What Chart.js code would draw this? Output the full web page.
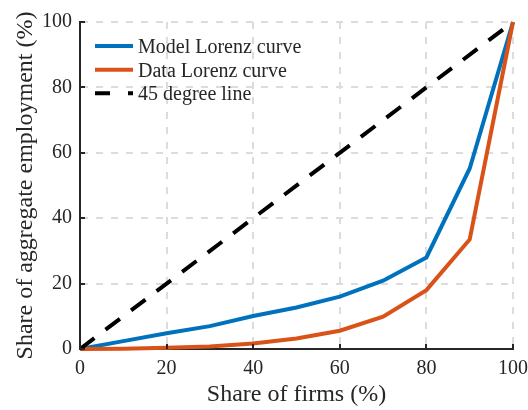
<!DOCTYPE html>
<html>
<head>
<meta charset="utf-8">
<script src="https://cdn.jsdelivr.net/npm/chart.js@4/dist/chart.umd.min.js"></script>
<style>
  html, body { margin: 0; padding: 0; background: #ffffff; }
  #wrap { width: 528px; height: 410px; }
</style>
</head>
<body>
<div id="wrap"><canvas id="c" width="528" height="410"></canvas></div>
<script>
// ---- data ----
const shareOfFirms = [0, 10, 20, 30, 40, 50, 60, 70, 80, 90, 100];
const modelLorenz  = [0, 2.4, 4.8, 7.0, 10.1, 12.7, 16.0, 20.9, 28.0, 55.2, 100];
const dataLorenz   = [0, 0.1, 0.4, 0.8, 1.7, 3.2, 5.6, 9.9, 18.0, 33.5, 100];
const diagX = [0, 100];
const diagY = [0, 100];
const tickValues = [0, 20, 40, 60, 80, 100];
const seriesNames = ['Model Lorenz curve', 'Data Lorenz curve', '45 degree line'];
const xTitle = 'Share of firms (%)';
const yTitle = 'Share of aggregate employment (%)';

const FONT = "'Liberation Serif', 'DejaVu Serif', serif";
const TXT = '#262626';
const BLUE = '#0072BD';
const ORANGE = '#D95319';
const LW = 4;

const toPts = (xs, ys) => xs.map((x, i) => ({ x: x, y: ys[i] }));

// custom in-plot legend (upper left)
const insideLegend = {
  id: 'insideLegend',
  afterDraw(chart) {
    const ctx = chart.ctx;
    const rows = [46, 69.7, 93.3];
    ctx.save();
    chart.data.datasets.forEach((ds, i) => {
      const y = rows[i];
      ctx.beginPath();
      ctx.lineWidth = LW;
      ctx.strokeStyle = ds.borderColor;
      ctx.lineCap = 'butt';
      ctx.setLineDash(ds.borderDash && ds.borderDash.length ? [15, 18] : []);
      ctx.moveTo(95, y);
      ctx.lineTo(133, y);
      ctx.stroke();
      ctx.setLineDash([]);
      ctx.fillStyle = TXT;
      ctx.font = '20px ' + FONT;
      ctx.textAlign = 'left';
      ctx.textBaseline = 'alphabetic';
      ctx.fillText(ds.label, 138, y + 7);
    });
    ctx.restore();
  }
};

// inward tick marks (MATLAB style)
const innerTicks = {
  id: 'innerTicks',
  afterDraw(chart) {
    const ctx = chart.ctx;
    const xs = chart.scales.x, ys = chart.scales.y;
    const area = chart.chartArea;
    ctx.save();
    ctx.strokeStyle = TXT;
    ctx.lineWidth = 2;
    ctx.beginPath();
    xs.ticks.forEach(t => {
      const px = Math.round(xs.getPixelForValue(t.value));
      ctx.moveTo(px, area.bottom);
      ctx.lineTo(px, area.bottom - 5);
    });
    ys.ticks.forEach(t => {
      const py = Math.round(ys.getPixelForValue(t.value));
      ctx.moveTo(area.left, py);
      ctx.lineTo(area.left + 5, py);
    });
    ctx.stroke();
    ctx.restore();
  }
};

new Chart(document.getElementById('c'), {
  type: 'line',
  data: {
    datasets: [
      {
        label: seriesNames[0],
        data: toPts(shareOfFirms, modelLorenz),
        borderColor: BLUE,
        borderWidth: LW,
        pointRadius: 0,
        tension: 0,
        clip: false,
        order: 2
      },
      {
        label: seriesNames[1],
        data: toPts(shareOfFirms, dataLorenz),
        borderColor: ORANGE,
        borderWidth: LW,
        pointRadius: 0,
        tension: 0,
        clip: false,
        order: 1
      },
      {
        label: seriesNames[2],
        data: toPts(diagX, diagY),
        borderColor: '#000000',
        borderWidth: LW,
        borderDash: [18, 14],
        pointRadius: 0,
        tension: 0,
        clip: false,
        order: 0
      }
    ]
  },
  options: {
    responsive: false,
    animation: false,
    events: [],
    layout: { padding: { top: 22, right: 15, left: 0, bottom: 0 } },
    plugins: {
      legend: { display: false },
      tooltip: { enabled: false },
      title: { display: false }
    },
    scales: {
      x: {
        type: 'linear',
        min: 0, max: 100,
        afterBuildTicks: s => { s.ticks = tickValues.map(v => ({ value: v })); },
        afterFit: s => { s.height = 61; s.paddingLeft = 0; s.paddingRight = 0; },
        ticks: {
          color: TXT,
          font: { family: FONT, size: 20 },
          padding: 8,
          maxRotation: 0
        },
        grid: {
          color: '#dcdcdc',
          lineWidth: 2,
          drawTicks: false
        },
        border: { display: true, color: TXT, width: 2, dash: [7, 8] },
        title: {
          display: true,
          text: xTitle,
          color: TXT,
          font: { family: FONT, size: 24, lineHeight: 1 },
          padding: { top: 0, bottom: 3 }
        }
      },
      y: {
        type: 'linear',
        min: 0, max: 100,
        afterBuildTicks: s => { s.ticks = tickValues.map(v => ({ value: v })); },
        afterFit: s => { s.width = 80; s.paddingTop = 0; s.paddingBottom = 0; },
        ticks: {
          color: TXT,
          font: { family: FONT, size: 20 },
          padding: 8
        },
        grid: {
          color: '#dcdcdc',
          lineWidth: 2,
          drawTicks: false
        },
        border: { display: true, color: TXT, width: 2, dash: [7, 8] },
        title: {
          display: true,
          text: yTitle,
          color: TXT,
          font: { family: FONT, size: 24, lineHeight: 1 },
          padding: { top: 14, bottom: 0 }
        }
      }
    }
  },
  plugins: [innerTicks, insideLegend]
});
</script>
</body>
</html>
